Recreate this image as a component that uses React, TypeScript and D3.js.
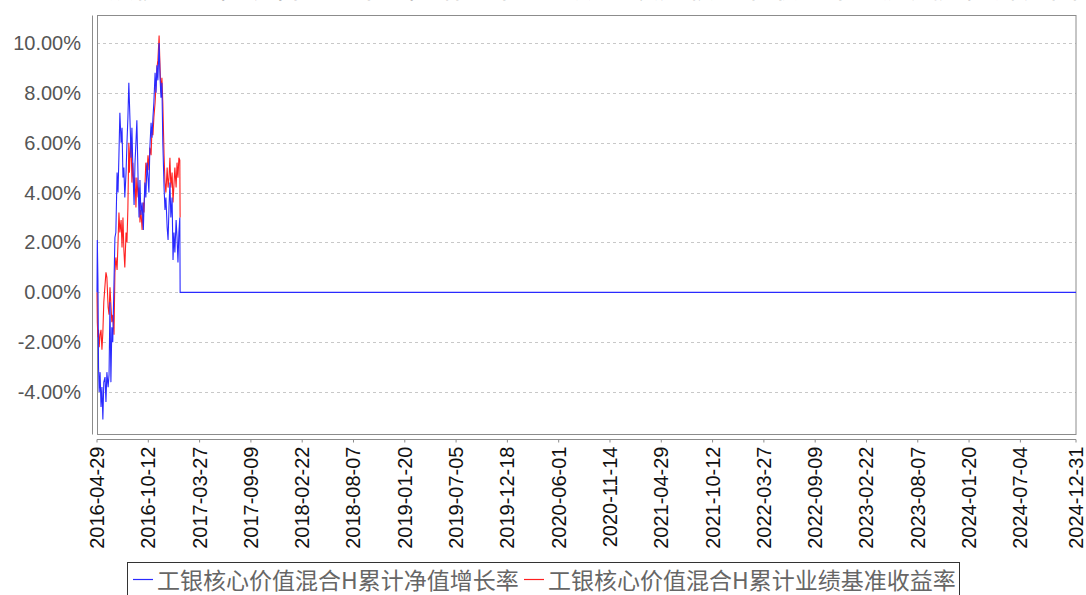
import React from 'react';
import * as d3 from 'd3';

// series: day offset from start, cumulative NAV growth (%), benchmark return (%)
const startDate = '2016-04-29';
const endDate = '2024-12-31';

const dayOffsets = [
  0, 1, 3, 5, 7, 10, 13, 16, 19, 22, 26, 29, 32, 36, 39, 42, 45, 48, 51, 55,
  58, 61, 65, 68, 71, 74, 78, 81, 84, 87, 90, 94, 97, 100, 103, 105, 108, 110, 113, 116,
  120, 123, 126, 129, 133, 136, 139, 142, 146, 150, 152, 155, 158, 162, 165, 168, 171, 175, 178, 181,
  184, 188, 191, 194, 197, 201, 204, 207, 210, 213, 217, 220, 223, 227, 230, 233, 236, 239, 243, 246,
  249, 252, 256, 259, 262, 265, 268, 269,
];

const navGrowth = [
  0, 2.1, 0.5, -3.0, -4.0, -3.2, -4.6, -3.8, -5.1, -3.6, -3.4, -4.4, -3.2, -3.8, -3.3, -0.4, -3.6, -1.4, -2.0, 0.4,
  2.2, 2.4, 4.8, 4.0, 5.5, 7.2, 6.0, 6.6, 4.6, 5.0, 3.8, 4.8, 6.0, 7.0, 8.4, 7.6, 6.4, 5.4, 6.6, 5.0,
  3.5, 5.2, 6.0, 6.9, 4.5, 3.0, 4.5, 3.1, 3.6, 2.5, 3.4, 4.4, 3.8, 5.2, 4.6, 4.0, 5.8, 6.8, 6.2, 7.0,
  7.6, 8.8, 8.0, 9.1, 8.5, 10.0, 8.6, 7.8, 8.4, 6.0, 4.2, 3.3, 3.8, 2.6, 2.1, 3.4, 4.4, 3.0, 3.8, 1.3,
  2.4, 1.6, 2.9, 2.2, 1.2, 2.4, 3.0, 0,
];

const benchmark = [
  0, -1.2, -1.8, -1.5, -2.2, -1.7, -1.5, -2.3, -1.6, -0.4, 0.3, 0.8, 0.6, -0.6, -0.9, 0.2, -0.5, -1.2, -0.9, -1.7,
  0.8, 1.4, 0.9, 2.0, 3.2, 2.4, 2.9, 1.8, 3.0, 1.7, 1.0, 2.4, 2.0, 3.4, 6.0, 4.8, 5.8, 6.2, 4.4, 5.2,
  4.0, 4.6, 3.4, 4.6, 3.8, 4.2, 2.8, 3.3, 2.5, 3.6, 3.2, 4.2, 5.2, 4.8, 5.5, 4.9, 5.8, 5.5, 6.6, 6.3,
  7.0, 7.6, 8.3, 9.0, 9.3, 10.3, 9.0, 8.0, 8.6, 7.6, 5.5, 4.4, 4.0, 5.0, 4.2, 4.6, 5.4, 4.2, 4.8, 3.6,
  4.3, 5.0, 4.2, 5.2, 4.6, 5.4, 5.3, 3.0,
];

const xTickLabels = [
  '2016-04-29', '2016-10-12', '2017-03-27', '2017-09-09', '2018-02-22', '2018-08-07',
  '2019-01-20', '2019-07-05', '2019-12-18', '2020-06-01', '2020-11-14', '2021-04-29',
  '2021-10-12', '2022-03-27', '2022-09-09', '2023-02-22', '2023-08-07', '2024-01-20',
  '2024-07-04', '2024-12-31',
];
const yTicks = [-4, -2, 0, 2, 4, 6, 8, 10];

const seriesNames = ['工银核心价值混合H累计净值增长率', '工银核心价值混合H累计业绩基准收益率'];
const title = '工银核心价值混合H累计净值增长率与同期业绩比较基准收益率的历史走势对比图';

const W = 1086;
const H = 595;
const plot = { left: 97, right: 1076, top: 15.5, bottom: 434.5 };
const numFont = '"Liberation Sans", Arial, sans-serif';
const narrowFont = '"Liberation Sans Narrow", "Arial Narrow", "Liberation Sans", sans-serif';
const cjkFont = '"Noto Sans CJK SC", "Liberation Sans", sans-serif';

const parse = d3.timeParse('%Y-%m-%d');

export default function App() {
  const start = parse(startDate) as Date;
  const end = parse(endDate) as Date;

  const x = d3.scaleTime().domain([start, end]).range([plot.left, plot.right]);
  const y = d3.scaleLinear().domain([-5.7, 11.1]).range([plot.bottom, plot.top]);

  const dates = dayOffsets.map(d => d3.timeDay.offset(start, d));
  const navPts: [Date, number][] = dates.map((d, i) => [d, navGrowth[i]]);
  navPts.push([end, 0]); // net value line stays flat after the last report
  const benchPts: [Date, number][] = dates.map((d, i) => [d, benchmark[i]]);

  const line = d3.line<[Date, number]>()
    .x(d => x(d[0]))
    .y(d => y(d[1]));

  const fmt = (v: number) => v.toFixed(2) + '%';
  const axisY = 439.5;

  return (
    <svg width={W} height={H} style={{ position: 'absolute', left: 0, top: 0, background: '#fff' }}
      xmlns="http://www.w3.org/2000/svg">
      {/* title, almost entirely above the window */}
      <text x={578} y={-2.5} textAnchor="middle" fontFamily={cjkFont} fontSize={28} fill="#888">{title}</text>

      {/* grid */}
      {yTicks.map(t => (
        <line key={'g' + t} x1={plot.left} x2={plot.right} y1={Math.round(y(t)) + 0.5} y2={Math.round(y(t)) + 0.5}
          stroke="#c8c8c8" strokeWidth={1} strokeDasharray="3,3" />
      ))}

      {/* plot frame */}
      <rect x={plot.left + 0.5} y={plot.top} width={plot.right - plot.left - 0.5} height={plot.bottom - plot.top}
        fill="none" stroke="#8c8c8c" strokeWidth={1} />

      {/* y axis */}
      <line x1={92.5} x2={92.5} y1={plot.top} y2={plot.bottom} stroke="#8c8c8c" strokeWidth={1} />
      {yTicks.map(t => (
        <text key={'y' + t} x={81} y={y(t) + 7} textAnchor="end" fontFamily={numFont} fontSize={20} fill="#555">
          {fmt(t)}
        </text>
      ))}

      {/* x axis */}
      <line x1={plot.left} x2={plot.right} y1={axisY} y2={axisY} stroke="#8c8c8c" strokeWidth={1} />
      {xTickLabels.map(s => {
        const px = x(parse(s) as Date);
        return (
          <g key={s}>
            <line x1={px} x2={px} y1={axisY} y2={axisY + 3} stroke="#8c8c8c" strokeWidth={1} />
            <text transform={`translate(${px + 7},${axisY + 7}) rotate(-90)`} textAnchor="end"
              fontFamily={narrowFont} fontSize={20} fill="#111">{s}</text>
          </g>
        );
      })}

      {/* series */}
      <path d={line(benchPts) || ''} fill="none" stroke="#ff2020" strokeWidth={1.1} />
      <path d={line(navPts) || ''} fill="none" stroke="#2a2aff" strokeWidth={1.1} />

      {/* legend */}
      <rect x={127.5} y={562.5} width={832} height={50} fill="#fff" stroke="#333" strokeWidth={1} />
      <line x1={133} x2={153} y1={579.5} y2={579.5} stroke="#2a2aff" strokeWidth={1.2} />
      <text x={157} y={589} fontFamily={cjkFont} fontSize={23} fill="#666">{seriesNames[0]}</text>
      <line x1={524} x2={544} y1={579.5} y2={579.5} stroke="#ff2020" strokeWidth={1.2} />
      <text x={548} y={589} fontFamily={cjkFont} fontSize={23} fill="#666">{seriesNames[1]}</text>
    </svg>
  );
}
